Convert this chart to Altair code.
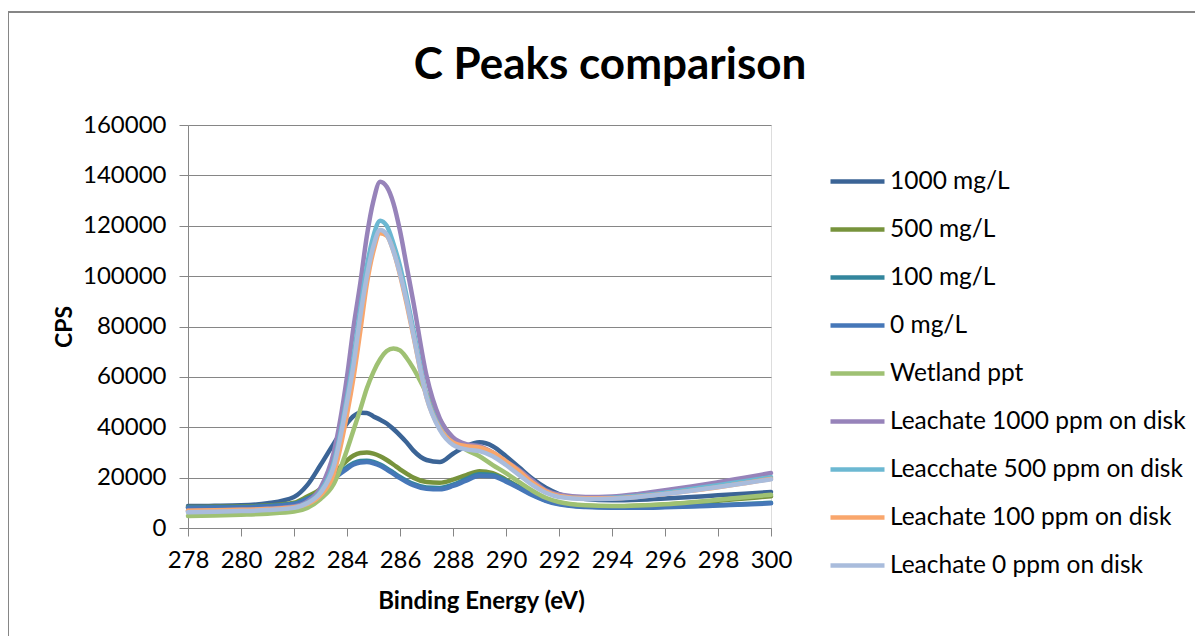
import altair as alt
import pandas as pd

# Binding energy grid (eV)
energy = [278, 279, 280, 281, 282, 282.5, 283, 283.5, 284, 284.25, 284.5, 284.75,
          285, 285.25, 285.5, 285.75, 286, 286.25, 286.5, 287, 287.5, 288, 288.5,
          289, 289.5, 290, 290.5, 291, 291.5, 292, 293, 294, 295, 296, 297, 298, 299, 300]

s_1000 = [8700, 8800, 9000, 9800, 12300, 17000, 25000, 33500, 41500, 44500, 45800, 45700,
          44300, 43000, 41500, 39300, 36800, 34000, 30800, 27000, 26200, 29500, 32500,
          34000, 32500, 28500, 24000, 19500, 16000, 13500, 11500, 11000, 11200, 11700, 12300, 13000, 13600, 14300]
s_500 = [8300, 8400, 8500, 8900, 10000, 12500, 15500, 21500, 26800, 28800, 29800, 30000,
         29500, 28500, 27000, 25200, 23300, 21600, 20000, 18300, 18000, 19200, 21000,
         22500, 21800, 19200, 16300, 13500, 11200, 9800, 8800, 8600, 8800, 9300, 10000, 10800, 11700, 12600]
s_100 = [8100, 8200, 8300, 8700, 9600, 11700, 14300, 20000, 24200, 25800, 26600, 26700,
         26200, 25200, 23700, 22000, 20300, 18800, 17500, 16100, 15900, 17200, 19400,
         21300, 21000, 18800, 16100, 13300, 11000, 9600, 8500, 8200, 8200, 8400, 8700, 9100, 9500, 10000]
s_0 = [8000, 8100, 8200, 8600, 9500, 11500, 14000, 19500, 23500, 25200, 26000, 26200,
       25700, 24700, 23200, 21500, 19800, 18300, 17000, 15600, 15400, 16700, 18800,
       20700, 20500, 18400, 15800, 13000, 10800, 9400, 8300, 8000, 8000, 8200, 8500, 8900, 9300, 9800]
s_wet = [4800, 5000, 5300, 5700, 6500, 8000, 11500, 17500, 31000, 39000, 47000, 55500,
         62000, 67000, 70300, 71300, 70500, 67500, 63500, 53500, 43000, 35500, 31000,
         28500, 25000, 21800, 18200, 14800, 12000, 10300, 9000, 8700, 8900, 9400, 10200, 11200, 12200, 13200]
s_l1000 = [6800, 7000, 7200, 7600, 8500, 10500, 16000, 30000, 60000, 80000, 97000, 116000,
           130000, 137500, 135500, 129000, 118000, 104000, 90000, 60500, 43500, 36000, 33300,
           32500, 30000, 26500, 23000, 18800, 15000, 13300, 12300, 12500, 13500, 15000, 16500, 18200, 20000, 21800]
s_l500 = [6500, 6700, 6900, 7300, 8200, 10000, 14500, 26000, 52000, 68000, 87000, 104000,
          116000, 122000, 120000, 113000, 104000, 92000, 79000, 53000, 40000, 33500, 31500,
          31000, 29000, 25500, 21800, 17600, 14400, 12600, 11800, 12000, 12800, 14000, 15500, 17000, 18600, 20200]
s_l100 = [6800, 7000, 7200, 7500, 8200, 9500, 13000, 21500, 45000, 60000, 78000, 97000,
          110000, 117000, 116000, 110000, 100500, 89000, 76500, 52000, 39500, 34000, 32500,
          32000, 30000, 26500, 22500, 18000, 14600, 12700, 11800, 11800, 12400, 13500, 14800, 16200, 17800, 19500]
s_l0 = [6300, 6500, 6700, 7100, 8000, 9800, 14000, 24500, 50000, 65000, 84000, 100000,
        112000, 118300, 116500, 110000, 101000, 90000, 77000, 52000, 39000, 33000, 31200,
        30500, 28500, 25000, 21000, 17000, 14000, 12300, 11500, 11600, 12300, 13500, 14800, 16300, 17800, 19300]

series_names = ["1000 mg/L", "500 mg/L", "100 mg/L", "0 mg/L", "Wetland ppt",
                "Leachate 1000 ppm on disk", "Leacchate 500 ppm on disk",
                "Leachate 100 ppm on disk", "Leachate 0 ppm on disk"]
series_values = [s_1000, s_500, s_100, s_0, s_wet, s_l1000, s_l500, s_l100, s_l0]
series_colors = ["#3B6496", "#77933C", "#33869D", "#4677B8", "#9FC173",
                 "#9783BA", "#6CB8D2", "#F9A66C", "#A9BCDC"]

x_ticks = list(range(278, 301, 2))
y_ticks = list(range(0, 160001, 20000))
chart_title = "C Peaks comparison"

rows = []
for name, vals in zip(series_names, series_values):
    for e, v in zip(energy, vals):
        rows.append({"Energy": e, "CPS": v, "Series": name})
df = pd.DataFrame(rows)

FONT = "Lato"

color = alt.Color(
    "Series:N",
    scale=alt.Scale(domain=series_names, range=series_colors),
    legend=alt.Legend(
        title=None, orient="none", legendX=640, legendY=27,
        symbolType="stroke", symbolSize=2916, symbolStrokeWidth=4.5,
        labelFont=FONT, labelFontSize=24.5, labelColor="#000000", labelOffset=3,
        labelLimit=400, rowPadding=7, padding=0,
    ),
)

xenc = alt.X(
    "Energy:Q",
    scale=alt.Scale(domain=[278, 300], nice=False, zero=False),
    axis=alt.Axis(
        values=x_ticks, format="d", title="Binding Energy (eV)",
        labelFont=FONT, labelFontSize=24, labelColor="#000000", labelPadding=12,
        tickSize=8, tickColor="#868686", domainColor="#868686", grid=False,
        labelFlush=False,
        titleFont=FONT, titleFontSize=24, titleFontWeight="bold", titleColor="#000000",
        titleX=293, titleY=80, titleBaseline="alphabetic", titleAnchor="middle",
    ),
)
yenc = alt.Y(
    "CPS:Q",
    scale=alt.Scale(domain=[0, 160000], nice=False),
    axis=alt.Axis(
        values=y_ticks, format="d", title="CPS",
        labelFont=FONT, labelFontSize=24, labelColor="#000000", labelPadding=13,
        tickSize=9, tickColor="#868686", domainColor="#868686",
        grid=True, gridColor="#868686", gridWidth=1,
        titleFont=FONT, titleFontSize=23, titleFontWeight="bold", titleColor="#000000",
        titleX=-117, titleY=201.5, titleAngle=270, titleBaseline="alphabetic",
        titleAlign="center",
    ),
)

layers = []
for name in series_names:
    layers.append(
        alt.Chart(df)
        .transform_filter(alt.datum.Series == name)
        .mark_line(strokeWidth=4.5, interpolate="monotone", strokeCap="round", strokeJoin="round")
        .encode(x=xenc, y=yenc, color=color, order="Energy:Q")
    )

border = alt.Chart(pd.DataFrame({"a": [0]})).mark_rect(
    fill=None, stroke="#868686", strokeWidth=2
).encode(x=alt.value(-180), x2=alt.value(1040), y=alt.value(-113), y2=alt.value(560))

title_text = alt.Chart(pd.DataFrame({"t": [chart_title]})).mark_text(
    font=FONT, fontSize=44, fontWeight="bold", color="#000000",
    align="center", baseline="alphabetic",
).encode(text="t:N", x=alt.value(422), y=alt.value(-46))

chart = alt.layer(border, title_text, *layers).properties(
    width=583, height=403,
    autosize=alt.AutoSizeParams(type="none"),
    padding={"left": 180, "top": 117, "right": 424, "bottom": 108},
).configure_view(stroke=None).configure(background="white")

chart.save("out.html", embed_options={"renderer": "svg", "actions": False})
